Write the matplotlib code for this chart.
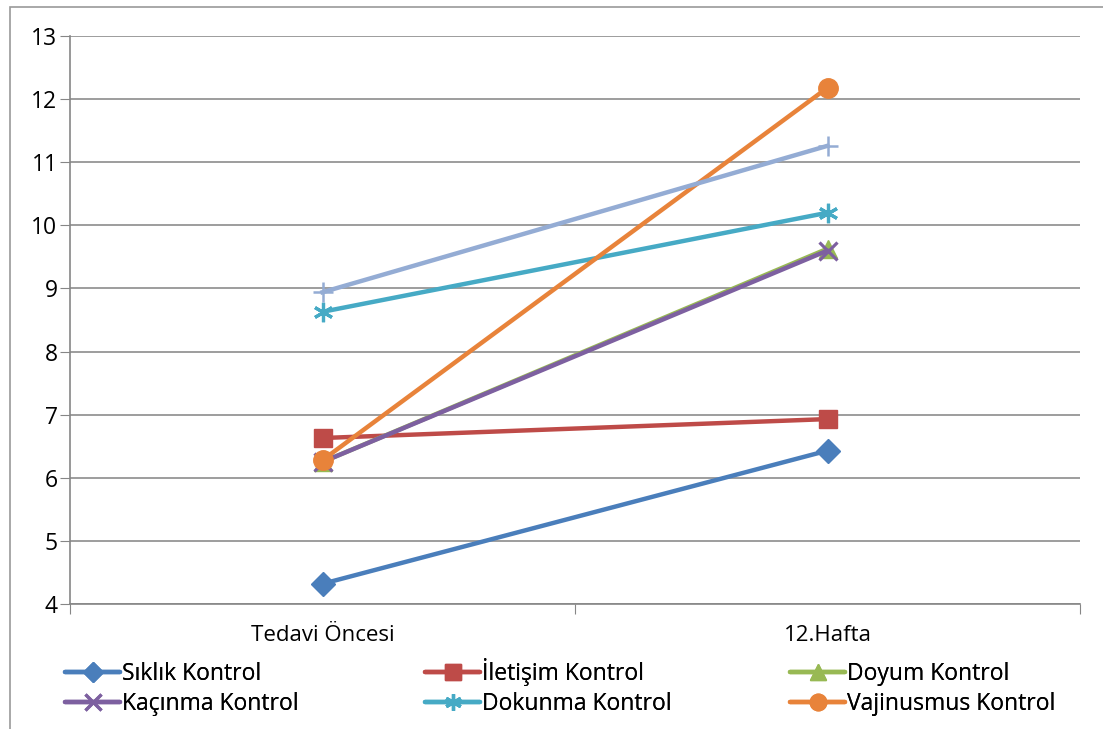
import matplotlib.pyplot as plt
from matplotlib.patches import Rectangle

plt.rcParams['font.family'] = ['Open Sans', 'DejaVu Sans']

# Veriler
kategoriler = ['Tedavi Öncesi', '12.Hafta']
siklik = [4.32, 6.43]
iletisim = [6.63, 6.93]
doyum = [6.25, 9.63]
kacinma = [6.25, 9.60]
dokunma = [8.63, 10.20]
vajinusmus = [6.28, 12.18]
toplam = [8.94, 11.26]

seriler = [
    ('Sıklık Kontrol', siklik, '#4A7EBB', 'D', 12),
    ('İletişim Kontrol', iletisim, '#BE4B48', 's', 13),
    ('Doyum Kontrol', doyum, '#98B954', '^', 13),
    ('Kaçınma Kontrol', kacinma, '#7D60A0', 'x', 13),
    ('Dokunma Kontrol', dokunma, '#46AAC5', (6, 2, 0), 14),
    ('Vajinusmus Kontrol', vajinusmus, '#E8833A', 'o', 14),
]

W, H = 1103, 729
fig = plt.figure(figsize=(W / 100, H / 100), dpi=100)
fig.patches.append(Rectangle((10 / W, -0.05), 1.1, 1 - 7 / H + 0.05,
                             transform=fig.transFigure, fill=False,
                             edgecolor='#9a9a9a', linewidth=1.2))
ax = fig.add_axes([70 / W, 125 / H, 1010 / W, 568 / H])

x = [0.5, 1.5]
handles = []
for ad, deger, renk, isaret, boyut in seriler:
    cizgili = isaret == 'x' or isinstance(isaret, tuple)
    h, = ax.plot(x, deger, color=renk, linewidth=3.2, marker=isaret,
                 markersize=boyut, markeredgewidth=2.3 if cizgili else 1,
                 markeredgecolor=renk, markerfacecolor=renk, label=ad,
                 solid_capstyle='round', clip_on=False)
    handles.append(h)
ax.plot(x, toplam, color='#94ACD4', linewidth=3.2, marker='+',
        markersize=14, markeredgewidth=1.8, clip_on=False)

ax.set_xlim(0, 2)
ax.set_ylim(4, 13)
ax.set_yticks(range(4, 14))
ax.set_xticks([0, 1, 2], minor=False)
ax.set_xticklabels([])
ax.set_xticks(x, minor=True)
ax.set_xticklabels(kategoriler, minor=True)
ax.tick_params(axis='x', which='minor', length=0, pad=15, labelsize=16)
ax.tick_params(axis='x', which='major', length=7, color='#868686', direction='out')
ax.tick_params(axis='y', length=7, color='#868686', labelsize=16.5, pad=2)
ax.grid(axis='y', color='#8c8c8c', linewidth=1.2)
ax.set_axisbelow(True)
for s in ['top', 'right']:
    ax.spines[s].set_visible(False)
for s in ['left', 'bottom']:
    ax.spines[s].set_color('#868686')
    ax.spines[s].set_linewidth(1.2)

# Lejant: 3 sütun x 2 satır, her kayıt alt kenarından hizalı
sutun_x = [65, 425, 790]
satir_alt = [686, 716]
for i, h in enumerate(handles):
    sol = sutun_x[i % 3]
    alt = satir_alt[i // 3]
    lg = fig.legend([h], [seriler[i][0]], loc='lower left',
                    bbox_to_anchor=(sol / W, 1 - alt / H),
                    frameon=False, fontsize=16.5, handlelength=2.4,
                    handletextpad=0.1, borderaxespad=0, borderpad=0,
                    markerscale=0.85)
    fig.add_artist(lg)

fig.savefig('out.png', dpi=100)
